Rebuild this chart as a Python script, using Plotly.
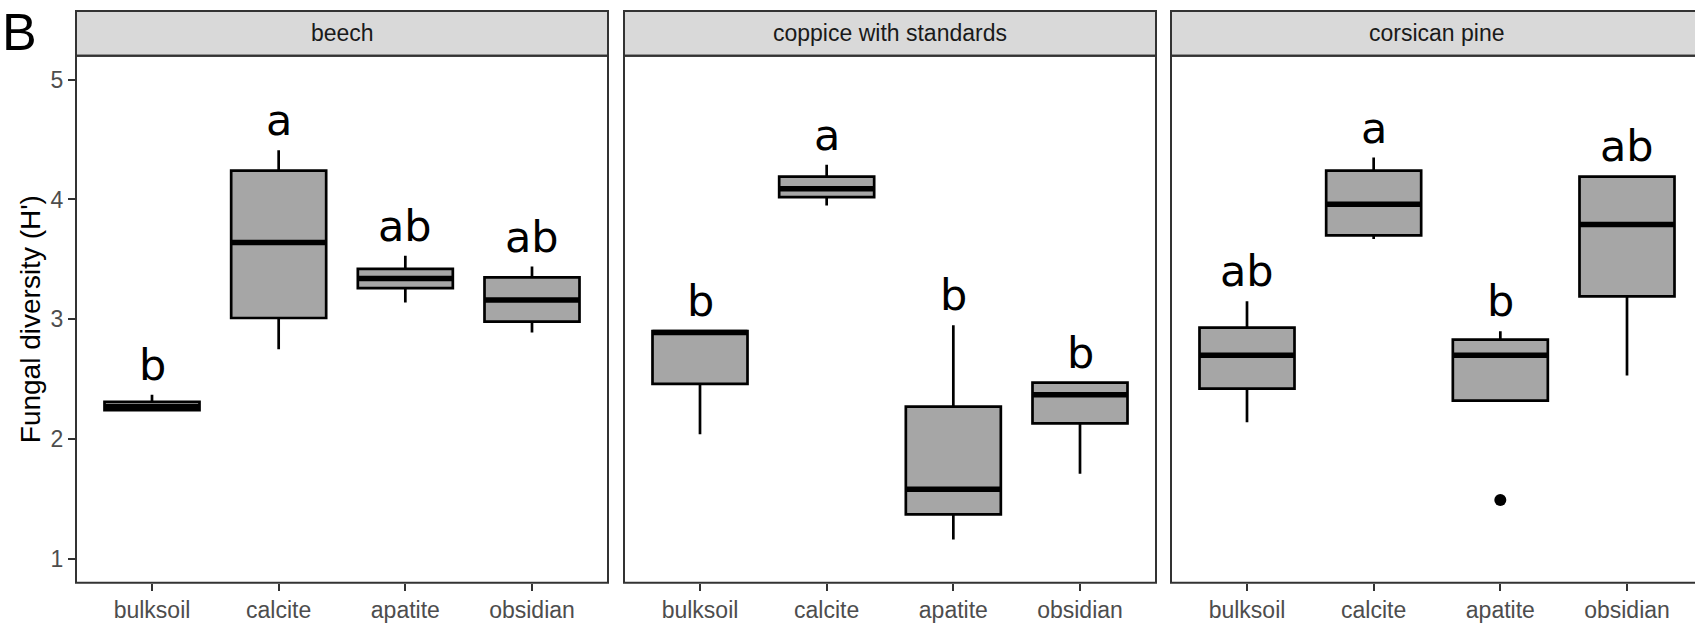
import plotly.graph_objects as go

# ---- data ----
panels = ["beech", "coppice with standards", "corsican pine"]
categories = ["bulksoil", "calcite", "apatite", "obsidian"]

lower = {
    "beech": [2.23, 2.75, 3.14, 2.89],
    "coppice with standards": [2.04, 3.95, 1.16, 1.71],
    "corsican pine": [2.14, 3.67, 2.31, 2.53],
}
q1 = {
    "beech": [2.24, 3.01, 3.26, 2.98],
    "coppice with standards": [2.46, 4.02, 1.37, 2.13],
    "corsican pine": [2.42, 3.70, 2.32, 3.19],
}
median = {
    "beech": [2.27, 3.64, 3.34, 3.16],
    "coppice with standards": [2.89, 4.09, 1.58, 2.37],
    "corsican pine": [2.70, 3.96, 2.70, 3.79],
}
q3 = {
    "beech": [2.31, 4.24, 3.42, 3.35],
    "coppice with standards": [2.90, 4.19, 2.27, 2.47],
    "corsican pine": [2.93, 4.24, 2.83, 4.19],
}
upper = {
    "beech": [2.37, 4.41, 3.53, 3.44],
    "coppice with standards": [2.90, 4.29, 2.95, 2.47],
    "corsican pine": [3.15, 4.35, 2.90, 4.20],
}
outliers = {
    "beech": [],
    "coppice with standards": [],
    "corsican pine": [(2, 1.49)],
}
letters = {
    "beech": ["b", "a", "ab", "ab"],
    "coppice with standards": ["b", "a", "b", "b"],
    "corsican pine": ["ab", "a", "b", "ab"],
}
y_ticks = [1, 2, 3, 4, 5]

# ---- layout geometry ----
W, H = 1695, 623
def px_x(v):
    return v / W
def px_y(v):
    return (H - v) / H

panel_left = [76, 624, 1171]
panel_w = 532
plot_top, plot_bot = 56, 585.5
strip_top = 11
unit = panel_w / 4.2
BOX_W = 0.75
LETTER_OFF = 0.025

fig = go.Figure()
shapes = []
annotations = []
BORDER = "#333333"

for k, p in enumerate(panels):
    xa = "x" if k == 0 else f"x{k+1}"
    ya = "y" if k == 0 else f"y{k+1}"
    idx = list(range(len(categories)))
    fig.add_trace(go.Box(
        x=idx, q1=q1[p], median=median[p], q3=q3[p],
        lowerfence=lower[p], upperfence=upper[p],
        width=BOX_W, whiskerwidth=0, boxpoints=False,
        fillcolor="#A6A6A6", line=dict(color="black", width=2.7),
        xaxis=xa, yaxis=ya, showlegend=False, hoverinfo="skip",
    ))
    mx, my = [], []
    for i, m in enumerate(median[p]):
        mx += [i - BOX_W / 2, i + BOX_W / 2, None]
        my += [m, m, None]
    fig.add_trace(go.Scatter(x=mx, y=my, mode="lines",
                             line=dict(color="black", width=5.5),
                             xaxis=xa, yaxis=ya, showlegend=False, hoverinfo="skip"))
    if outliers[p]:
        fig.add_trace(go.Scatter(x=[o[0] for o in outliers[p]], y=[o[1] for o in outliers[p]],
                                 mode="markers", marker=dict(color="black", size=12),
                                 xaxis=xa, yaxis=ya, showlegend=False, hoverinfo="skip"))
    for i, lab in enumerate(letters[p]):
        annotations.append(dict(x=i, y=upper[p][i] + LETTER_OFF, xref=xa, yref=ya,
                                text=lab, showarrow=False, yanchor="bottom",
                                font=dict(family="DejaVu Sans", size=43, color="black")))

    left = panel_left[k]
    right = left + panel_w
    x0 = px_x(left)
    x1 = min(px_x(right), 1.0)
    rng_hi = -0.6 + (min(right, W) - left) / unit
    axis_x = dict(domain=[x0, x1], range=[-0.6, rng_hi], showgrid=False, zeroline=False,
                  tickmode="array", tickvals=idx, ticktext=categories,
                  ticks="outside", ticklen=7, tickwidth=2, tickcolor=BORDER,
                  tickfont=dict(family="Liberation Sans", size=23, color="#4D4D4D"),
                  showline=False, anchor=ya)
    axis_y = dict(domain=[px_y(plot_bot), px_y(plot_top)], range=[0.8, 5.2],
                  showgrid=False, zeroline=False, showline=False, anchor=xa,
                  tickmode="array", tickvals=y_ticks)
    if k == 0:
        axis_y.update(ticks="outside", ticklen=7, tickwidth=2, tickcolor=BORDER,
                      tickfont=dict(family="Liberation Sans", size=23, color="#4D4D4D"))
    else:
        axis_y.update(showticklabels=False, ticks="")
    fig.layout[("xaxis" if k == 0 else f"xaxis{k+1}")] = axis_x
    fig.layout[("yaxis" if k == 0 else f"yaxis{k+1}")] = axis_y

    # panel border and strip
    rx1 = px_x(right)
    shapes.append(dict(type="rect", xref="paper", yref="paper",
                       x0=x0, x1=rx1, y0=px_y(plot_bot), y1=px_y(plot_top),
                       line=dict(color=BORDER, width=2), fillcolor="rgba(0,0,0,0)", layer="above"))
    shapes.append(dict(type="rect", xref="paper", yref="paper",
                       x0=x0, x1=rx1, y0=px_y(plot_top), y1=px_y(strip_top),
                       line=dict(color=BORDER, width=2), fillcolor="#D9D9D9", layer="below"))
    annotations.append(dict(x=px_x(left + panel_w / 2), y=px_y((strip_top + plot_top) / 2),
                            xref="paper", yref="paper", text=p, showarrow=False,
                            xanchor="center", yanchor="middle",
                            font=dict(family="Liberation Sans", size=23, color="#1A1A1A")))

annotations.append(dict(x=px_x(30), y=px_y((plot_top + plot_bot) / 2), xref="paper", yref="paper",
                        text="Fungal diversity (H')", textangle=-90, showarrow=False,
                        xanchor="center", yanchor="middle",
                        font=dict(family="Liberation Sans", size=28, color="black")))
annotations.append(dict(x=px_x(0), y=px_y(1), xref="paper", yref="paper",
                        text="B", showarrow=False, xanchor="left", yanchor="top",
                        font=dict(family="Liberation Sans", size=52, color="black")))

fig.update_layout(width=W, height=H, margin=dict(l=0, r=0, t=0, b=0),
                  paper_bgcolor="white", plot_bgcolor="white",
                  boxmode="overlay", shapes=shapes, annotations=annotations)

fig.write_html("out.html", config={"displayModeBar": False},
               post_script="document.body.style.margin='0px';document.body.style.overflow='hidden';")
